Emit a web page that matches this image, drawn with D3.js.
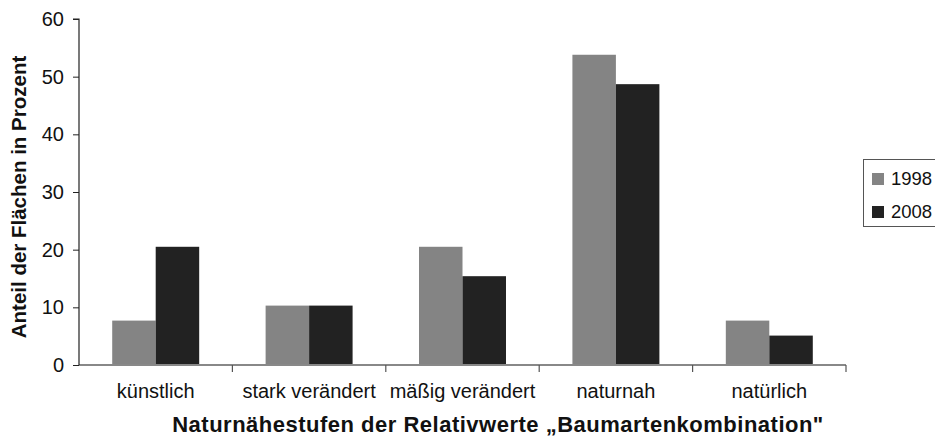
<!DOCTYPE html>
<html>
<head>
<meta charset="utf-8">
<script src="https://cdn.jsdelivr.net/npm/d3@7"></script>
<style>
  html, body { margin: 0; padding: 0; background: #fff; }
  svg { display: block; font-family: "Liberation Sans", Arial, sans-serif; }
</style>
</head>
<body>
<svg id="chart" width="935" height="438"></svg>
<script>
// Naturnähestufen (Baumartenkombination), Flächenanteile in Prozent
const categories = ["künstlich", "stark verändert", "mäßig verändert", "naturnah", "natürlich"];
const seriesNames = ["1998", "2008"];
const values1998 = [7.7, 10.3, 20.5, 53.8, 7.7];
const values2008 = [20.5, 10.3, 15.4, 48.7, 5.1];
const yTicks = [0, 10, 20, 30, 40, 50, 60];
const seriesColors = ["#848484", "#222222"];

const svg = d3.select("#chart");
const plot = { left: 79, right: 846, top: 19, bottom: 365 };

const x = d3.scaleBand()
  .domain(categories)
  .range([plot.left, plot.right])
  .paddingInner(0.433)
  .paddingOuter(0.2165);

const xSub = d3.scaleBand()
  .domain(seriesNames)
  .range([0, x.bandwidth()])
  .padding(0);

const y = d3.scaleLinear().domain([0, 60]).range([plot.bottom, plot.top]);

const rows = categories.map((c, i) => ({ cat: c, vals: [values1998[i], values2008[i]] }));

// bars
const groups = svg.append("g").selectAll("g").data(rows).join("g")
  .attr("transform", d => `translate(${x(d.cat)},0)`);
groups.selectAll("rect")
  .data(d => d.vals.map((v, k) => ({ name: seriesNames[k], v, k })))
  .join("rect")
  .attr("x", d => xSub(d.name))
  .attr("width", xSub.bandwidth())
  .attr("y", d => y(d.v))
  .attr("height", d => y(0) - y(d.v))
  .attr("fill", d => seriesColors[d.k]);

// x axis: baseline with ticks between categories
const step = x.step();
const xAxisG = svg.append("g");
xAxisG.append("line")
  .attr("x1", plot.left).attr("x2", plot.right)
  .attr("y1", y(0)).attr("y2", y(0))
  .attr("stroke", "#888").attr("stroke-width", 2);
const boundaries = categories.map((c, i) => plot.left + step * (i + 1));
xAxisG.selectAll("line.tick").data(boundaries).join("line")
  .attr("class", "tick")
  .attr("x1", d => d).attr("x2", d => d)
  .attr("y1", y(0)).attr("y2", y(0) + 7)
  .attr("stroke", "#555").attr("stroke-width", 1.2);
xAxisG.selectAll("text").data(categories).join("text")
  .attr("x", d => x(d) + x.bandwidth() / 2)
  .attr("y", 398)
  .attr("text-anchor", "middle")
  .attr("font-size", 20)
  .attr("fill", "#111")
  .text(d => d);

// y axis
const yAxis = d3.axisLeft(y).tickValues(yTicks).tickSize(6).tickPadding(9);
const yAxisG = svg.append("g")
  .attr("transform", `translate(${plot.left},0)`)
  .call(yAxis);
yAxisG.select(".domain").attr("stroke", "#222").attr("stroke-width", 1.2)
  .attr("d", `M-6,${plot.top}H0V${plot.bottom}`);
yAxisG.selectAll(".tick line").attr("stroke", "#222");
yAxisG.selectAll(".tick text")
  .attr("font-size", 20)
  .attr("font-family", "Liberation Sans, Arial, sans-serif")
  .attr("fill", "#111");

// axis titles
svg.append("text")
  .attr("transform", `translate(26,${(plot.top + plot.bottom) / 2 + 5}) rotate(-90)`)
  .attr("text-anchor", "middle")
  .attr("font-size", 20.5)
  .attr("font-weight", "bold")
  .attr("fill", "#111")
  .text("Anteil der Flächen in Prozent");

svg.append("text")
  .attr("x", 498)
  .attr("y", 432)
  .attr("text-anchor", "middle")
  .attr("font-size", 22)
  .attr("letter-spacing", 0.5)
  .attr("font-weight", "bold")
  .attr("fill", "#111")
  .text("Naturnähestufen der Relativwerte „Baumartenkombination\"");

// legend
const legend = svg.append("g").attr("transform", "translate(863,159)");
legend.append("rect")
  .attr("x", 0.5).attr("y", 0.5)
  .attr("width", 90).attr("height", 67)
  .attr("fill", "#fff").attr("stroke", "#555").attr("stroke-width", 1);
const items = legend.selectAll("g.item").data(seriesNames).join("g")
  .attr("class", "item")
  .attr("transform", (d, i) => `translate(9,${14 + i * 33})`);
items.append("rect")
  .attr("width", 12).attr("height", 12)
  .attr("fill", (d, i) => seriesColors[i]);
items.append("text")
  .attr("x", 19).attr("y", 12)
  .attr("font-size", 18.5)
  .attr("fill", "#111")
  .text(d => d);
</script>
</body>
</html>
